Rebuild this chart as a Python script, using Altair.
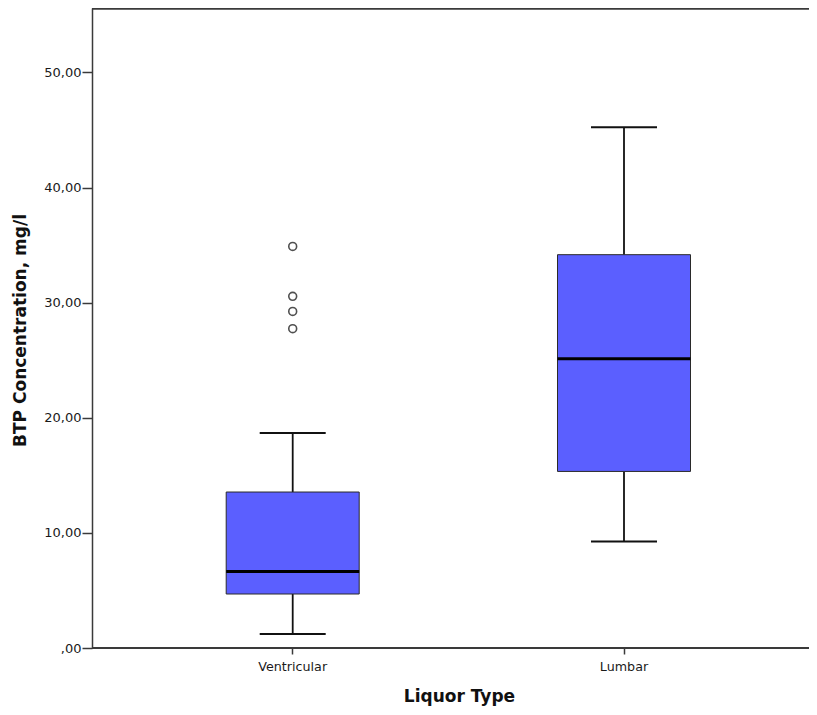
import altair as alt
import pandas as pd

# ---- data ----
categories = ["Ventricular", "Lumbar"]
whisker_low = [1.22, 9.26]
q1 = [4.69, 15.34]
median = [6.65, 25.13]
q3 = [13.55, 34.17]
whisker_high = [18.68, 45.23]

outlier_cat = ["Ventricular", "Ventricular", "Ventricular", "Ventricular"]
outlier_val = [34.89, 30.55, 29.24, 27.74]

y_ticks = [0, 10, 20, 30, 40, 50]

summary = pd.DataFrame({
    "type": categories,
    "lo": whisker_low,
    "q1": q1,
    "med": median,
    "q3": q3,
    "hi": whisker_high,
})
outliers = pd.DataFrame({"type": outlier_cat, "val": outlier_val})

W = 725
H = 640
FRAME = "#3a3a3a"
BG = "#f0f0f0"

xscale = alt.Scale(domain=categories, range=[35.05, 697.65], paddingInner=0, paddingOuter=0)
yscale = alt.Scale(domain=[0, 55.6], nice=False, zero=False)

x_enc = alt.X(
    "type:N", scale=xscale, sort=categories,
    axis=alt.Axis(
        title="Liquor Type", domain=False, grid=False, labelAngle=0,
        tickSize=6, tickWidth=1.5, tickColor=FRAME, labelPadding=6,
        labelFont="DejaVu Sans", labelFontSize=12.7, labelColor="#1a1a1a",
        titleFont="DejaVu Sans", titleFontSize=17, titleFontWeight="bold",
        titleColor="#111", titleX=367, titleY=53, titleBaseline="alphabetic",
        titleAlign="center",
    ),
)
y_axis = alt.Axis(
    title="BTP Concentration, mg/l", values=y_ticks, grid=False,
    domain=True, domainColor=FRAME, domainWidth=1.5,
    tickSize=10, tickWidth=1.5, tickColor=FRAME, labelPadding=1,
    labelExpr="datum.value == 0 ? ',00' : replace(format(datum.value, '.2f'), '.', ',')",
    labelFont="DejaVu Sans", labelFontSize=13, labelColor="#1a1a1a",
    titleFont="DejaVu Sans", titleFontSize=17, titleFontWeight="bold",
    titleColor="#111", titleX=-67, titleY=322, titleAngle=270,
    titleBaseline="alphabetic", titleAlign="center",
)

base = alt.Chart(summary)

whisker_up = base.mark_rule(color="#111", strokeWidth=1.8).encode(
    x=x_enc, y=alt.Y("q3:Q", scale=yscale, axis=y_axis), y2="hi:Q")
whisker_dn = base.mark_rule(color="#111", strokeWidth=1.8).encode(
    x="type:N", y="lo:Q", y2="q1:Q")
cap_hi = base.mark_tick(color="#111", size=66, thickness=2, opacity=1).encode(x="type:N", y="hi:Q")
cap_lo = base.mark_tick(color="#111", size=66, thickness=2, opacity=1).encode(x="type:N", y="lo:Q")
box = base.mark_bar(size=133, color="#5B5FFF", stroke="#2a2a2a", strokeWidth=1, opacity=1).encode(
    x="type:N", y="q1:Q", y2="q3:Q")
med = base.mark_tick(color="#000", size=133, thickness=3, opacity=1).encode(x="type:N", y="med:Q")

pts = alt.Chart(outliers).mark_point(
    filled=False, size=62, color="#505050", strokeWidth=1.6, opacity=1
).encode(x="type:N", y="val:Q")

top_frame = base.mark_rule(color=FRAME, strokeWidth=1.5).encode(
    x=alt.value(0), x2=alt.value(W), y=alt.value(0.75))
bottom_frame = base.mark_rule(color=FRAME, strokeWidth=1.8).encode(
    x=alt.value(0), x2=alt.value(W), y=alt.value(H))

chart = alt.layer(
    whisker_up, whisker_dn, cap_hi, cap_lo, box, med, pts, top_frame, bottom_frame
).properties(
    width=W, height=H,
    autosize=alt.AutoSizeParams(type="none"),
    padding={"left": 84, "top": 0, "right": -8, "bottom": 58},
).configure_view(
    stroke=BG, strokeOpacity=0, fill=BG
).configure(background="white")

chart.save("out.html", embed_options={"renderer": "svg", "actions": False})
